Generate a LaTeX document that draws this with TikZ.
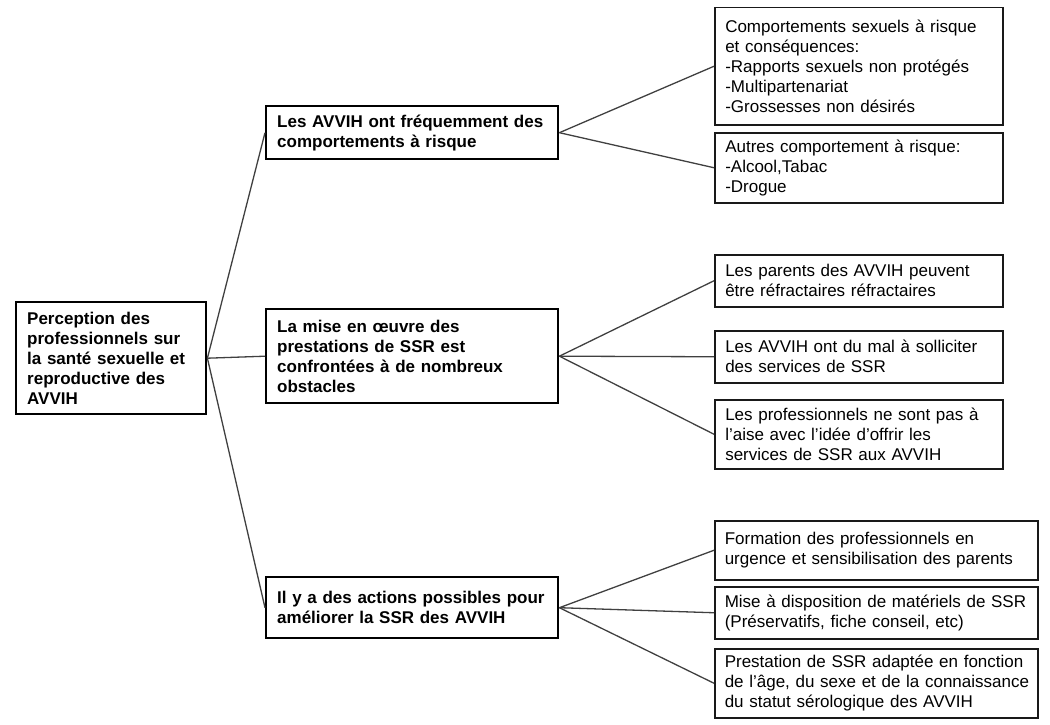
\documentclass[tikz,border=0pt]{standalone}
\usepackage{fontspec}
\setmainfont{Liberation Sans}
\usetikzlibrary{positioning}
\tikzset{
	bigbox/.style={draw=black, line width=2.4pt, anchor=north west, inner xsep=11pt, inner ysep=2pt, align=left, font=\fontsize{17}{20}\selectfont\bfseries},
	smallbox/.style={draw=black!90, line width=1.5pt, anchor=north west, inner xsep=10.5pt, inner ysep=2pt, align=left, font=\fontsize{17}{20}\selectfont},
	widebox/.style={smallbox, inner xsep=7pt, text width=309pt},
	link/.style={line width=1.3pt, color=black!75}
}

\begin{document}
\begin{tikzpicture}[x=1pt, y=-1pt]
			%%%%% START %%%%%
			
			\useasboundingbox (0, 0) rectangle (1050, 725);
			
			\node[bigbox, text width=168pt, minimum height=112pt] (perception) at (15, 301) {Perception des\\professionnels sur\\la santé sexuelle et\\reproductive des\\AVVIH};
			
			\node[bigbox, text width=270pt, minimum height=53pt] (risque) at (265, 105) {Les AVVIH ont fréquemment des\\comportements à risque};
			\node[bigbox, text width=270pt, minimum height=94pt] (obstacles) at (265, 308) {La mise en œuvre des\\prestations de SSR est\\confrontées à de nombreux\\obstacles};
			\node[bigbox, text width=270pt, minimum height=61pt] (actions) at (265, 576) {Il y a des actions possibles pour\\améliorer la SSR des AVVIH};
			
			\node[smallbox, text width=267pt, minimum height=117pt] (sexuels) at (714, 7) {Comportements sexuels à risque\\et conséquences:\\-Rapports sexuels non protégés\\-Multipartenariat\\-Grossesses non désirés};
			\node[smallbox, text width=267pt, minimum height=70pt] (autres) at (714, 132) {Autres comportement à risque:\\-Alcool,Tabac\\-Drogue};
			
			\node[smallbox, text width=267pt, minimum height=52pt] (parents) at (714, 254) {Les parents des AVVIH peuvent\\être réfractaires réfractaires};
			\node[smallbox, text width=267pt, minimum height=52pt] (solliciter) at (714, 330) {Les AVVIH ont du mal à solliciter\\des services de SSR};
			\node[smallbox, text width=267pt, minimum height=69pt] (aise) at (714, 399) {Les professionnels ne sont pas à\\l’aise avec l’idée d’offrir les\\services de SSR aux AVVIH};
			
			\node[widebox, minimum height=59pt] (formation) at (714, 520) {\hspace{3pt}Formation des professionnels en\\\hspace*{3pt}urgence et sensibilisation des parents};
			\node[widebox, minimum height=52pt] (materiel) at (714, 586) {\hspace*{3pt}Mise à disposition de matériels de SSR\\\hspace*{3pt}(Préservatifs, fiche conseil, etc)};
			\node[widebox, minimum height=69pt] (prestation) at (714, 648) {\hspace*{3pt}Prestation de SSR adaptée en fonction\\\hspace*{3pt}de l’âge, du sexe et de la connaissance\\\hspace*{3pt}du statut sérologique des AVVIH};
			
			\draw[link] (perception.east) -- (risque.west);
			\draw[link] (perception.east) -- (obstacles.west);
			\draw[link] (perception.east) -- (actions.west);
			
			\draw[link] (risque.east) -- (sexuels.west);
			\draw[link] (risque.east) -- (autres.west);
			
			\draw[link] (obstacles.east) -- (parents.west);
			\draw[link] (obstacles.east) -- (solliciter.west);
			\draw[link] (obstacles.east) -- (aise.west);
			
			\draw[link] (actions.east) -- (formation.west);
			\draw[link] (actions.east) -- (materiel.west);
			\draw[link] (actions.east) -- (prestation.west);
			
			%%%%% END %%%%%
		\end{tikzpicture}
\end{document}
